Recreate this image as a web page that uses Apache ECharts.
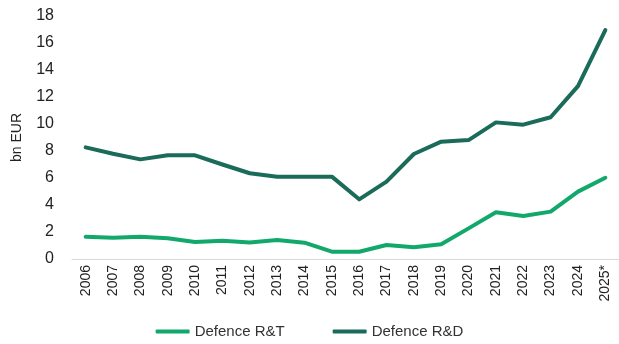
<!DOCTYPE html>
<html>
<head>
<meta charset="utf-8">
<script src="https://cdn.jsdelivr.net/npm/echarts@6/dist/echarts.min.js"></script>
<style>
  html, body { margin: 0; padding: 0; background: #fff; }
  #chart { width: 619px; height: 344px; }
</style>
</head>
<body>
<div id="chart"></div>
<script>
// Years on the x axis (2025 is an estimate)
const years = ['2006','2007','2008','2009','2010','2011','2012','2013','2014','2015',
               '2016','2017','2018','2019','2020','2021','2022','2023','2024','2025*'];

// Defence research & technology spending, bn EUR
const rtValues = [1.65, 1.58, 1.65, 1.53, 1.26, 1.36, 1.23, 1.41, 1.21, 0.54,
                  0.54, 1.04, 0.87, 1.09, 2.27, 3.46, 3.19, 3.51, 4.99, 6.02];

// Defence research & development spending, bn EUR
const rdValues = [8.27, 7.8, 7.38, 7.68, 7.68, 7.0, 6.35, 6.1, 6.1, 6.1,
                  4.42, 5.73, 7.78, 8.69, 8.81, 10.12, 9.95, 10.5, 12.81, 16.96];

const yTicks = { min: 0, max: 18, interval: 2 };

const font = "'Liberation Sans', 'DejaVu Sans', sans-serif";
const chart = echarts.init(document.getElementById('chart'));

chart.setOption({
  animation: false,
  textStyle: { fontFamily: font },
  grid: { left: 72, right: 0, top: 16, bottom: 85, containLabel: false, outerBoundsMode: 'none' },
  legend: {
    bottom: 0,
    left: 'center',
    itemWidth: 34,
    itemHeight: 4,
    itemGap: 48,
    icon: 'roundRect',
    textStyle: { fontSize: 15, color: '#333', fontFamily: font },
    data: ['Defence R&T', 'Defence R&D']
  },
  xAxis: {
    type: 'category',
    data: years,
    boundaryGap: true,
    axisLine: { show: true, lineStyle: { color: '#d9d9d9', width: 1 } },
    axisTick: { show: false },
    axisLabel: { rotate: 90, fontSize: 14, color: '#222', margin: 6, interval: 0 }
  },
  yAxis: {
    type: 'value',
    min: yTicks.min,
    max: yTicks.max,
    interval: yTicks.interval,
    name: 'bn EUR',
    nameLocation: 'middle',
    nameRotate: 90,
    nameGap: 48,
    nameTextStyle: { fontSize: 14, color: '#222', fontFamily: font },
    axisLine: { show: false },
    axisTick: { show: false },
    splitLine: { show: false },
    axisLabel: { fontSize: 16, color: '#222', margin: 18, padding: [3, 0, 0, 0] }
  },
  series: [
    {
      name: 'Defence R&T',
      type: 'line',
      data: rtValues,
      symbol: 'none',
      lineStyle: { color: '#12a86b', width: 4, cap: 'round', join: 'round' },
      itemStyle: { color: '#12a86b' }
    },
    {
      name: 'Defence R&D',
      type: 'line',
      data: rdValues,
      symbol: 'none',
      lineStyle: { color: '#1a6b5a', width: 4, cap: 'round', join: 'round' },
      itemStyle: { color: '#1a6b5a' }
    }
  ]
});
</script>
</body>
</html>
